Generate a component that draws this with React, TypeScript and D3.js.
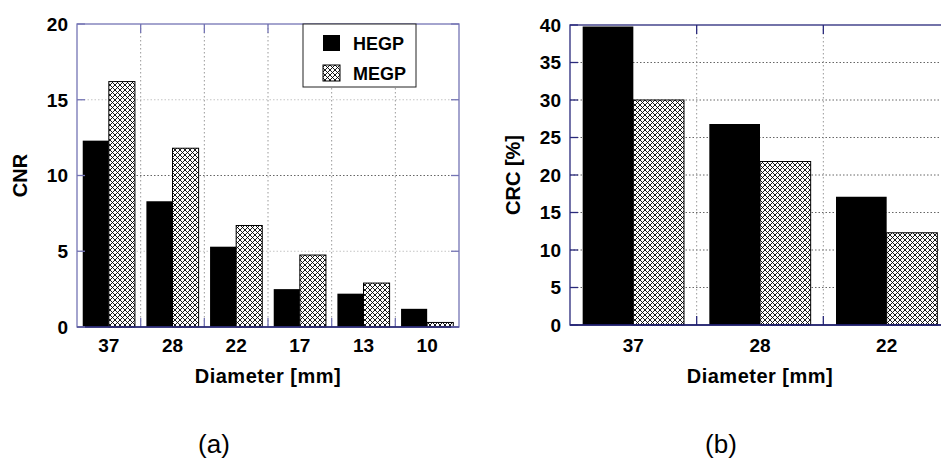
import React, { useEffect, useRef } from 'react';
import * as d3 from 'd3';

// panel (a): CNR
const diametersA = ['37', '28', '22', '17', '13', '10'];
const cnrHEGP = [12.3, 8.3, 5.3, 2.5, 2.2, 1.2];
const cnrMEGP = [16.2, 11.8, 6.7, 4.75, 2.9, 0.3];
const cnrTicks = [0, 5, 10, 15, 20];

// panel (b): CRC
const diametersB = ['37', '28', '22'];
const crcHEGP = [39.8, 26.8, 17.1];
const crcMEGP = [30, 21.8, 12.3];
const crcTicks = [0, 5, 10, 15, 20, 25, 30, 35, 40];

const seriesNames = ['HEGP', 'MEGP'];

const W = 941;
const H = 459;
const FONT = '"Liberation Sans", Arial, sans-serif';
const HATCH = 5;

interface PanelOpts {
  cats: string[];
  hegp: number[];
  megp: number[];
  ticks: number[];
  yMax: number;
  x0: number;
  x1: number;
  top: number;
  bottom: number;
  padIn: number;
  padOut: number;
  frame: string;
  yTitle: string;
  titleX: number;
  tag: string;
  tagX: number;
  strongGrid?: number;
}

export default function App() {
  const svgRef = useRef<SVGSVGElement>(null);

  useEffect(() => {
    if (!svgRef.current) return;
    const svg = d3.select(svgRef.current);
    svg.selectAll('*').remove();

    svg.append('rect').attr('width', W).attr('height', H).attr('fill', '#fff');

    // cross hatch used by MEGP
    const defs = svg.append('defs');
    const pat = defs.append('pattern')
      .attr('id', 'xhatch')
      .attr('patternUnits', 'userSpaceOnUse')
      .attr('width', HATCH)
      .attr('height', HATCH);
    pat.append('rect').attr('width', HATCH).attr('height', HATCH).attr('fill', '#fff');
    pat.append('path')
      .attr('d', `M0,0L${HATCH},${HATCH}M${HATCH},0L0,${HATCH}`)
      .attr('stroke', '#000')
      .attr('stroke-width', 0.9);

    const drawPanel = (o: PanelOpts) => {
      const g = svg.append('g');
      const y = d3.scaleLinear().domain([0, o.yMax]).range([o.bottom, o.top]);
      const cell = d3.scaleBand<string>().domain(o.cats).range([o.x0, o.x1]);
      const xb = d3.scaleBand<string>().domain(o.cats).range([o.x0, o.x1])
        .paddingInner(o.padIn).paddingOuter(o.padOut);
      const sub = d3.scaleBand<string>().domain(seriesNames).range([0, xb.bandwidth()]);

      // grid
      o.ticks.slice(1, -1).forEach(t => {
        const strong = o.strongGrid === undefined || t === o.strongGrid;
        g.append('line')
          .attr('x1', o.x0).attr('x2', o.x1)
          .attr('y1', y(t)).attr('y2', y(t))
          .attr('stroke', strong ? '#666' : '#c4c4c4')
          .attr('stroke-width', 1)
          .attr('stroke-dasharray', '1.5,2');
      });
      o.cats.slice(1).forEach(c => {
        const xx = cell(c)!;
        g.append('line')
          .attr('x1', xx).attr('x2', xx)
          .attr('y1', o.top).attr('y2', o.bottom)
          .attr('stroke', '#999')
          .attr('stroke-width', 1)
          .attr('stroke-dasharray', '1.5,2.5');
        g.append('line')
          .attr('x1', xx).attr('x2', xx).attr('y1', o.top).attr('y2', o.top + 9)
          .attr('stroke', o.frame).attr('stroke-width', 1.3);
        g.append('line')
          .attr('x1', xx).attr('x2', xx).attr('y1', o.bottom).attr('y2', o.bottom - 9)
          .attr('stroke', o.frame).attr('stroke-width', 1.3);
      });

      // bars
      o.cats.forEach((c, i) => {
        const bx = xb(c)!;
        g.append('rect')
          .attr('x', bx + sub('HEGP')!)
          .attr('y', y(o.hegp[i]))
          .attr('width', sub.bandwidth())
          .attr('height', y(0) - y(o.hegp[i]))
          .attr('fill', '#000');
        g.append('rect')
          .attr('x', bx + sub('MEGP')!)
          .attr('y', y(o.megp[i]))
          .attr('width', sub.bandwidth())
          .attr('height', y(0) - y(o.megp[i]))
          .attr('fill', 'url(#xhatch)')
          .attr('stroke', '#000')
          .attr('stroke-width', 1);
      });

      // frame
      g.append('rect')
        .attr('x', o.x0).attr('y', o.top)
        .attr('width', o.x1 - o.x0).attr('height', o.bottom - o.top)
        .attr('fill', 'none')
        .attr('stroke', o.frame)
        .attr('stroke-width', 1.3);
      g.append('line')
        .attr('x1', o.x0).attr('x2', o.x1).attr('y1', o.bottom).attr('y2', o.bottom)
        .attr('stroke', '#1c1c6a').attr('stroke-width', 1.6);

      // y ticks + labels
      o.ticks.forEach(t => {
        [[o.x0, o.x0 + 8], [o.x1, o.x1 - 8]].forEach(([a, b]) => {
          g.append('line')
            .attr('x1', a).attr('x2', b).attr('y1', y(t)).attr('y2', y(t))
            .attr('stroke', o.frame).attr('stroke-width', 1.3);
        });
        g.append('text')
          .attr('x', o.x0 - 9)
          .attr('y', y(t))
          .attr('dy', '0.36em')
          .attr('text-anchor', 'end')
          .style('font-family', FONT)
          .style('font-weight', 'bold')
          .style('font-size', '19px')
          .text(t);
      });

      // x labels
      o.cats.forEach(c => {
        g.append('text')
          .attr('x', xb(c)! + xb.bandwidth() / 2)
          .attr('y', 352)
          .attr('text-anchor', 'middle')
          .style('font-family', FONT)
          .style('font-weight', 'bold')
          .style('font-size', '19px')
          .text(c);
      });

      g.append('text')
        .attr('x', o.x0 + (o.x1 - o.x0) / 2)
        .attr('y', 383)
        .attr('text-anchor', 'middle')
        .style('font-family', FONT)
        .style('font-weight', 'bold')
        .style('font-size', '20px')
        .style('letter-spacing', '0.5px')
        .text('Diameter [mm]');

      g.append('text')
        .attr('transform', `translate(${o.titleX},${(o.top + o.bottom) / 2}) rotate(-90)`)
        .attr('text-anchor', 'middle')
        .attr('dy', '0.36em')
        .style('font-family', FONT)
        .style('font-weight', 'bold')
        .style('font-size', '20px')
        .text(o.yTitle);

      g.append('text')
        .attr('x', o.tagX)
        .attr('y', 453)
        .attr('text-anchor', 'middle')
        .style('font-family', FONT)
        .style('font-size', '26px')
        .text(o.tag);

      return g;
    };

    const ga = drawPanel({
      cats: diametersA, hegp: cnrHEGP, megp: cnrMEGP, ticks: cnrTicks, yMax: 20,
      x0: 77, x1: 459, top: 24, bottom: 327, padIn: 0.18, padOut: 0.09,
      frame: '#7474b4', yTitle: 'CNR', titleX: 20, tag: '(a)', tagX: 214, strongGrid: 10,
    });

    drawPanel({
      cats: diametersB, hegp: crcHEGP, megp: crcMEGP, ticks: crcTicks, yMax: 40,
      x0: 570, x1: 950, top: 25, bottom: 325, padIn: 0.2, padOut: 0.1,
      frame: '#2a2a7c', yTitle: 'CRC [%]', titleX: 513, tag: '(b)', tagX: 721,
    });

    // legend in panel (a)
    const lg = ga.append('g');
    lg.append('rect')
      .attr('x', 303).attr('y', 24).attr('width', 113).attr('height', 63)
      .attr('fill', '#fff').attr('stroke', '#222').attr('stroke-width', 1);
    seriesNames.forEach((s, i) => {
      const yy = 35 + i * 30;
      lg.append('rect')
        .attr('x', 323).attr('y', yy).attr('width', 17).attr('height', 16)
        .attr('fill', i === 0 ? '#000' : 'url(#xhatch)')
        .attr('stroke', '#000').attr('stroke-width', i === 0 ? 0 : 1);
      lg.append('text')
        .attr('x', 353).attr('y', yy + 15)
        .style('font-family', FONT)
        .style('font-weight', 'bold')
        .style('font-size', '18px')
        .text(s);
    });
  }, []);

  return (
    <svg
      ref={svgRef}
      width={W}
      height={H}
      style={{ position: 'absolute', left: 0, top: 0, display: 'block' }}
    />
  );
}
